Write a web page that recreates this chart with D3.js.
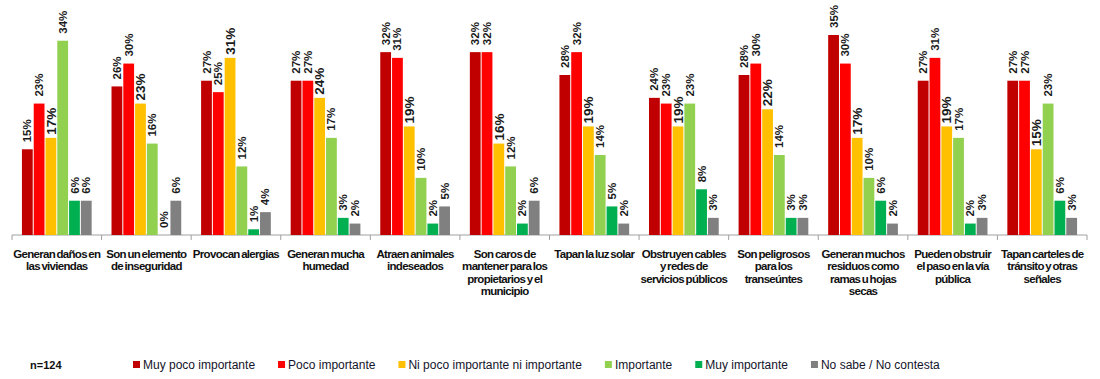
<!DOCTYPE html>
<html><head><meta charset="utf-8">
<script src="https://cdn.jsdelivr.net/npm/d3@7"></script>
<style>body{margin:0;background:#fff;}svg{display:block;}</style>
</head><body>
<svg id="chart" width="1100" height="379"></svg>
<script>
const categories = [
  ["Generan daños en","las viviendas"],
  ["Son un elemento","de inseguridad"],
  ["Provocan alergias"],
  ["Generan mucha","humedad"],
  ["Atraen animales","indeseados"],
  ["Son caros de","mantener para los","propietarios y el","municipio"],
  ["Tapan la luz solar"],
  ["Obstruyen cables","y redes de","servicios públicos"],
  ["Son peligrosos","para los","transeúntes"],
  ["Generan muchos","residuos como","ramas u hojas","secas"],
  ["Pueden obstruir","el paso en la vía","pública"],
  ["Tapan carteles de","tránsito y otras","señales"]
];
const seriesNames = ["Muy poco importante","Poco importante","Ni poco importante ni importante","Importante","Muy importante","No sabe / No contesta"];
const seriesColors = ["#C00000","#FF0000","#FFC000","#92D050","#00B050","#808080"];
const muyPoco   = [15,26,27,27,32,32,28,24,28,35,27,27];
const poco      = [23,30,25,27,31,32,32,23,30,30,31,27];
const niPocoNi  = [17,23,31,24,19,16,19,19,22,17,19,15];
const importante= [34,16,12,17,10,12,14,23,14,10,17,23];
const muyImp    = [6,0,1,3,2,2,5,8,3,6,2,6];
const noSabe    = [6,6,4,2,5,6,2,3,3,2,3,3];
const seriesValues = [muyPoco,poco,niPocoNi,importante,muyImp,noSabe];
const sampleNote = "n=124";

const svg = d3.select("#chart");
const idx = d3.range(categories.length);
const x0 = d3.scaleBand().domain(idx).range([12,1087]).paddingInner(0).paddingOuter(0);
const x1 = d3.scaleBand().domain(d3.range(seriesNames.length)).range([0,x0.bandwidth()]).paddingInner(0).paddingOuter(0.8);
const y = d3.scaleLinear().domain([0,35]).range([235,35]);

// axis
const axisG = svg.append("g").attr("transform","translate(0,235)");
axisG.append("line").attr("x1",12).attr("x2",1087).attr("y1",0).attr("y2",0).attr("stroke","#a0a0a0").attr("stroke-width",1);
const bounds = idx.map(i=>x0(i)).concat([x0(idx.length-1)+x0.bandwidth()]);
axisG.selectAll("line.tick").data(bounds).join("line").attr("class","tick")
  .attr("x1",d=>d).attr("x2",d=>d).attr("y1",0).attr("y2",5).attr("stroke","#a0a0a0");

// bars
const groups = svg.append("g").selectAll("g").data(idx).join("g")
  .attr("transform",i=>`translate(${x0(i)},0)`);
groups.each(function(i){
  const g = d3.select(this);
  const data = seriesValues.map((arr,s)=>({s,v:arr[i]}));
  g.selectAll("rect").data(data).join("rect")
    .attr("x",d=>x1(d.s)+0.5).attr("width",x1.bandwidth()-1)
    .attr("y",d=>y(d.v)).attr("height",d=>y(0)-y(d.v))
    .attr("fill",d=>seriesColors[d.s]);
  g.selectAll("text").data(data).join("text")
    .attr("transform",d=>{
      const cx = x1(d.s)+x1.bandwidth()/2;
      const off = d.s===2?3:7;
      return `translate(${cx},${y(d.v)-off}) rotate(-90)`;
    })
    .attr("dy","0.35em")
    .attr("font-family","Liberation Sans, Arial, sans-serif")
    .attr("font-weight","bold")
    .attr("font-size",d=>d.s===2?13.5:11.5)
    .attr("fill","#1a1a1a")
    .text(d=>d.v+"%");
});

// category labels
const catG = svg.append("g").selectAll("text").data(idx).join("text")
  .attr("x",i=>x0(i)+x0.bandwidth()/2)
  .attr("y",258)
  .attr("text-anchor","middle")
  .attr("font-family","Liberation Sans, Arial, sans-serif")
  .attr("font-weight","bold")
  .attr("font-size",11.5)
  .attr("letter-spacing","-0.7px")
  .attr("word-spacing","-1px")
  .attr("fill","#111");
catG.each(function(i){
  const t = d3.select(this);
  categories[i].forEach((line,k)=>{
    t.append("tspan").attr("x",x0(i)+x0.bandwidth()/2).attr("dy",k===0?0:12.4).text(line);
  });
});

// legend
svg.append("text").attr("x",30).attr("y",369).attr("font-family","Liberation Sans, Arial, sans-serif")
  .attr("font-weight","bold").attr("font-size",11).attr("fill","#111").text(sampleNote);
let lx = 133;
seriesNames.forEach((name,s)=>{
  svg.append("rect").attr("x",lx).attr("y",361).attr("width",7).attr("height",7).attr("fill",seriesColors[s]);
  const t = svg.append("text").attr("x",lx+10).attr("y",369)
    .attr("font-family","Liberation Sans, Arial, sans-serif").attr("font-size",12).attr("fill","#14142a").text(name);
  lx = lx + 10 + t.node().getComputedTextLength() + 23;
});
</script>
</body></html>
